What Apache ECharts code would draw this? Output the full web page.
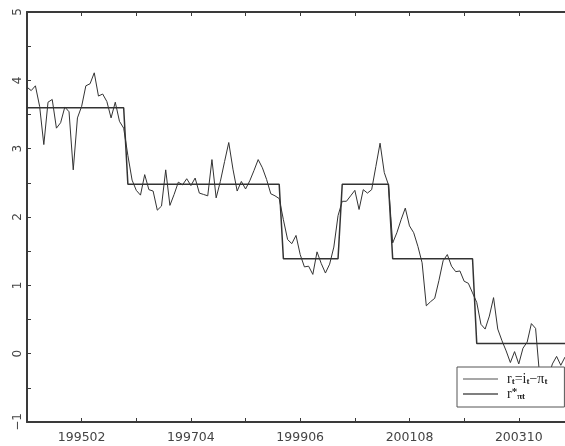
<!DOCTYPE html>
<html>
<head>
<meta charset="utf-8">
<script src="https://cdn.jsdelivr.net/npm/echarts@6/dist/echarts.min.js"></script>
<style>
html,body{margin:0;padding:0;background:#fff;}
#chart{width:565px;height:446px;}
</style>
</head>
<body>
<div id="chart"></div>
<script>
// Monthly categories 199401 .. 200409
const months = [];
for (let y = 1994; y <= 2004; y++) {
  for (let m = 1; m <= 12; m++) {
    if (months.length < 129) months.push(String(y) + (m < 10 ? '0' + m : String(m)));
  }
}
const tickLabels = ['199502', '199704', '199906', '200108', '200310'];

const realRate = [
  3.90, 3.85, 3.92, 3.62, 3.06, 3.68, 3.72, 3.30, 3.38, 3.61,
  3.54, 2.69, 3.45, 3.62, 3.92, 3.95, 4.11, 3.77, 3.80, 3.69,
  3.45, 3.68, 3.40, 3.30, 2.90, 2.54, 2.39, 2.32, 2.62, 2.40,
  2.38, 2.10, 2.16, 2.69, 2.17, 2.33, 2.51, 2.47, 2.56, 2.46,
  2.57, 2.35, 2.33, 2.31, 2.84, 2.28, 2.52, 2.81, 3.09, 2.70,
  2.38, 2.52, 2.41, 2.53, 2.68, 2.84, 2.72, 2.55, 2.34, 2.31,
  2.27, 1.96, 1.67, 1.61, 1.73, 1.45, 1.27, 1.28, 1.16, 1.49,
  1.32, 1.18, 1.31, 1.56, 2.02, 2.23, 2.23, 2.31, 2.39, 2.11,
  2.40, 2.35, 2.40, 2.74, 3.08, 2.65, 2.47, 1.62, 1.77, 1.96,
  2.13, 1.87, 1.77, 1.57, 1.33, 0.70, 0.76, 0.81, 1.07, 1.36,
  1.45, 1.28, 1.20, 1.21, 1.06, 1.03, 0.89, 0.75, 0.43, 0.36,
  0.55, 0.82, 0.36, 0.19, 0.04, -0.13, 0.03, -0.15, 0.08, 0.17,
  0.44, 0.37, -0.35, -0.45, -0.35, -0.15, -0.04, -0.17, -0.05
];

const targetRate = [
  3.60, 3.60, 3.60, 3.60, 3.60, 3.60, 3.60, 3.60, 3.60, 3.60,
  3.60, 3.60, 3.60, 3.60, 3.60, 3.60, 3.60, 3.60, 3.60, 3.60,
  3.60, 3.60, 3.60, 3.60, 2.48, 2.48, 2.48, 2.48, 2.48, 2.48,
  2.48, 2.48, 2.48, 2.48, 2.48, 2.48, 2.48, 2.48, 2.48, 2.48,
  2.48, 2.48, 2.48, 2.48, 2.48, 2.48, 2.48, 2.48, 2.48, 2.48,
  2.48, 2.48, 2.48, 2.48, 2.48, 2.48, 2.48, 2.48, 2.48, 2.48,
  2.48, 1.39, 1.39, 1.39, 1.39, 1.39, 1.39, 1.39, 1.39, 1.39,
  1.39, 1.39, 1.39, 1.39, 1.39, 2.48, 2.48, 2.48, 2.48, 2.48,
  2.48, 2.48, 2.48, 2.48, 2.48, 2.48, 2.48, 1.39, 1.39, 1.39,
  1.39, 1.39, 1.39, 1.39, 1.39, 1.39, 1.39, 1.39, 1.39, 1.39,
  1.39, 1.39, 1.39, 1.39, 1.39, 1.39, 1.39, 0.15, 0.15, 0.15,
  0.15, 0.15, 0.15, 0.15, 0.15, 0.15, 0.15, 0.15, 0.15, 0.15,
  0.15, 0.15, 0.15, 0.15, 0.15, 0.15, 0.15, 0.15, 0.15
];

const chart = echarts.init(document.getElementById('chart'), null, {renderer: 'canvas'});
const axisColor = '#3a3a3a';
const labelFont = 'DejaVu Sans';

const richStyles = {
  b: {fontFamily: 'Liberation Serif', fontSize: 14, color: '#222', lineHeight: 14},
  sub: {fontFamily: 'Liberation Serif', fontSize: 9, fontWeight: 'bold', color: '#222', lineHeight: 14, verticalAlign: 'bottom'},
  sup: {fontFamily: 'Liberation Serif', fontSize: 11, fontWeight: 'bold', color: '#222', lineHeight: 14, verticalAlign: 'top'}
};

chart.setOption({
  animation: false,
  backgroundColor: '#fff',
  grid: {left: 27, right: 0, top: 12, bottom: 24, containLabel: false},
  legend: {
    left: 457, top: 367,
    orient: 'vertical',
    padding: [5, 17, 6, 6],
    itemGap: 1,
    itemWidth: 35,
    itemHeight: 1.5,
    icon: 'rect',
    backgroundColor: '#fff',
    borderColor: '#555',
    borderWidth: 1,
    borderRadius: 0,
    textStyle: {rich: richStyles, padding: [0, 0, 0, 4], width: 55},
    formatter: function (name) {
      if (name === 'actual') return '{b|r}{sub|t}{b|=i}{sub|t}{b|−π}{sub|t}';
      return '{b|r}{sup|*}{sub|πt}';
    },
    data: [
      {name: 'actual', itemStyle: {color: '#8a8a8a'}},
      {name: 'target', itemStyle: {color: '#555'}}
    ]
  },
  xAxis: [
    {
      type: 'category',
      data: months,
      boundaryGap: false,
      position: 'bottom',
      axisLine: {show: true, onZero: false, lineStyle: {color: axisColor, width: 2}},
      axisTick: {show: true, inside: true, length: 4, interval: function (i) { return i % 13 === 0; }, lineStyle: {color: axisColor, width: 1}},
      axisLabel: {
        show: true,
        interval: function (i, v) { return tickLabels.indexOf(v) >= 0; },
        fontFamily: labelFont, fontSize: 12.5, color: '#444', margin: 9
      },
      splitLine: {show: false}
    },
    {
      type: 'category',
      data: months,
      boundaryGap: false,
      position: 'top',
      axisLine: {show: true, onZero: false, lineStyle: {color: axisColor, width: 2}},
      axisTick: {show: true, inside: true, length: 4, interval: function (i) { return i % 13 === 0; }, lineStyle: {color: axisColor, width: 1}},
      axisLabel: {show: false},
      splitLine: {show: false}
    }
  ],
  yAxis: {
    type: 'value',
    min: -1, max: 5, interval: 0.5,
    axisLine: {show: true, onZero: false, lineStyle: {color: axisColor, width: 2}},
    axisTick: {show: true, inside: true, length: 4, lineStyle: {color: axisColor, width: 1}},
    axisLabel: {
      rotate: 90,
      fontFamily: labelFont, fontSize: 12, color: '#444', margin: 3,
      formatter: function (v) {
        if (Math.abs(v - Math.round(v)) > 1e-9) return '';
        return v < 0 ? '−' + Math.abs(v) : String(v);
      }
    },
    splitLine: {show: false}
  },
  series: [
    {
      name: 'actual', type: 'line', data: realRate, symbol: 'none',
      lineStyle: {color: '#333', width: 1}, itemStyle: {color: '#8a8a8a'}, z: 2
    },
    {
      name: 'target', type: 'line', data: targetRate, symbol: 'none',
      lineStyle: {color: '#333', width: 1.5}, itemStyle: {color: '#555'}, z: 3
    }
  ]
});
</script>
</body>
</html>
